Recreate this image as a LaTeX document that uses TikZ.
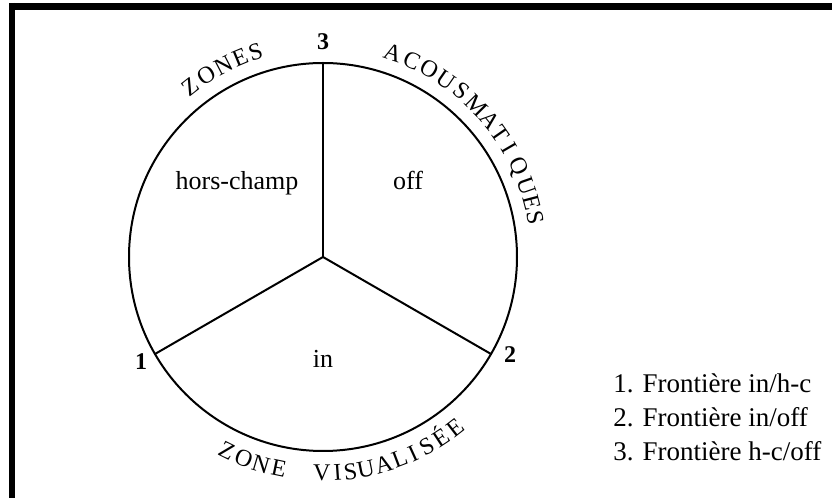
\documentclass[tikz,border=0pt]{standalone}
\usepackage{fontspec}
\setmainfont{Liberation Serif}
\usetikzlibrary{calc}

\begin{document}
\begin{tikzpicture}[
  x=0.5pt,y=0.5pt,
  frame/.style={line width=3.2pt,black},
  wall/.style={line width=1pt,black},
  region/.style={anchor=base,font=\fontsize{13}{15}\selectfont,inner sep=0pt},
  digit/.style={font=\fontsize{12}{14}\selectfont\bfseries,inner sep=0pt},
  arcletter/.style={anchor=base,font=\fontsize{12}{14}\selectfont,inner sep=0pt},
  legend/.style={anchor=base west,font=\fontsize{13.5}{16}\selectfont,inner sep=0pt}
]
\useasboundingbox (0,0) rectangle (832,498);
% frame (top and left edges only)
\draw[frame] (9,491.5) -- (832,491.5);
\draw[frame] (12,495) -- (12,0);

% circle and the three borders
\coordinate (hub) at (323,241);
\coordinate (b1) at ($(hub)+(210:194)$);
\coordinate (b2) at ($(hub)+(330:194)$);
\coordinate (b3) at ($(hub)+(90:194)$);
\draw[wall] (hub) circle[radius=194];
\draw[wall] (hub) -- (b1);
\draw[wall] (hub) -- (b2);
\draw[wall] (hub) -- (b3);

\node[digit] (n1) at (141,136) {1};
\node[digit] (n2) at (510,143) {2};
\node[digit] (n3) at (323,456) {3};

\node[region] (hc) at (237,308) {hors-champ};
\node[region] (off) at (408,308) {off};
\node[region] (in) at (323,130) {in};

% lettering round the circle
\foreach \a/\ch [count=\i] in {128/Z,122.5/O,117.5/N,112.6/E,108.2/S}
  \node[arcletter,rotate=\a-90] (za\i) at ($(hub)+(\a:208)$) {\ch};
\foreach \a/\ch [count=\i] in {71.1/A,65.7/C,60.5/O,55.3/U,50.2/S,44.6/M,39.4/A,
    34.8/T,30.2/I,24.9/Q,19.3/U,14.6/E,10.5/S}
  \node[arcletter,rotate=\a-90] (ac\i) at ($(hub)+(\a:208)$) {\ch};
\foreach \a/\ch [count=\i] in {243.6/Z,248.5/O,253.3/N,258.2/E,269.7/V,273.9/I,
    277.3/S,281.4/U,286.3/A,290.8/L,294.6/I,298.7/S,303.3/É,307.8/E}
  \node[arcletter,rotate=\a+90] (zv\i) at ($(hub)+(\a:224)$) {\ch};

% legend
\node[legend] (l1) at (613,105) {1. Frontière in/h-c};
\node[legend] (l2) at (613,71) {2. Frontière in/off};
\node[legend] (l3) at (613,37) {3. Frontière h-c/off};
\end{tikzpicture}
\end{document}
